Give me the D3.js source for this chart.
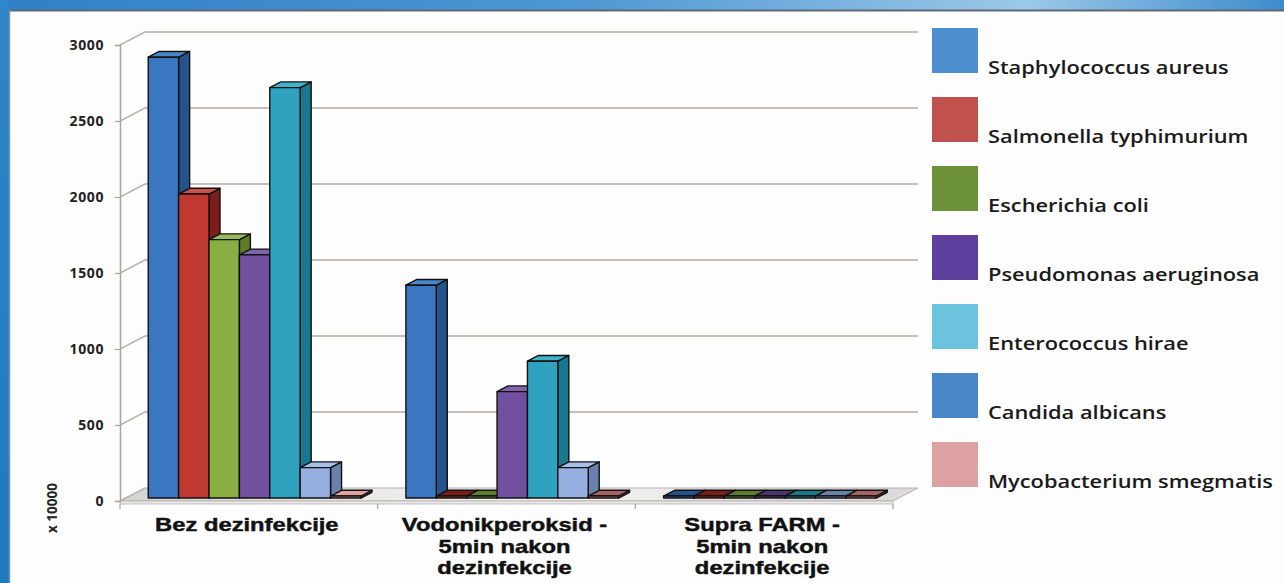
<!DOCTYPE html>
<html lang="en">
<head>
<meta charset="UTF-8">
<title>Broj mikroorganizama prije i nakon dezinfekcije</title>
<script src="https://d3js.org/d3.v7.min.js"></script>
<style>
  html, body { margin: 0; padding: 0; background: #fff; overflow: hidden; }
  svg { display: block; font-family: "Open Sans", "DejaVu Sans", sans-serif; }
</style>
</head>
<body>
<svg id="chart" width="1284" height="583"></svg>
<script>
// ---- data ----
const categories = ["Bez dezinfekcije", "Vodonikperoksid - 5min nakon dezinfekcije", "Supra FARM - 5min nakon dezinfekcije"];
const categoryLines = [["Bez dezinfekcije"], ["Vodonikperoksid -", "5min nakon", "dezinfekcije"], ["Supra FARM -", "5min nakon", "dezinfekcije"]];
const seriesNames = ["Staphylococcus aureus", "Salmonella typhimurium", "Escherichia coli", "Pseudomonas aeruginosa", "Enterococcus hirae", "Candida albicans", "Mycobacterium smegmatis"];
const staphylococcus = [2900, 1400, 0];
const salmonella     = [2000, 0, 0];
const escherichia    = [1700, 0, 0];
const pseudomonas    = [1600, 700, 0];
const enterococcus   = [2700, 900, 0];
const candida        = [200, 200, 0];
const mycobacterium  = [0, 0, 0];
const yTicks = [0, 500, 1000, 1500, 2000, 2500, 3000];
const yUnit = "x 10000";

const seriesValues = [staphylococcus, salmonella, escherichia, pseudomonas, enterococcus, candida, mycobacterium];

// ---- styles ----
const barFront  = ["#3b77c0", "#bf3931", "#8aae43", "#71509f", "#2ea2bf", "#97afe0", "#d98a82"];
const barSide   = ["#25548d", "#7c1d1a", "#5e7d2a", "#4b336f", "#18788e", "#6981ab", "#a6645e"];
const barTop    = ["#4a86cc", "#c94f48", "#98bb56", "#7f63ad", "#40b2cb", "#a8bde7", "#e2a29b"];
const legendCol = ["#4e8fcf", "#c0514c", "#6c9139", "#5e3f9d", "#6cc3de", "#4a87c9", "#dca1a0"];

const svg = d3.select("#chart");
const W = 1284, H = 583;

// ---- frame ----
const defs = svg.append("defs");
const topGrad = defs.append("linearGradient").attr("id", "topGrad");
topGrad.append("stop").attr("offset", "0%").attr("stop-color", "#2f80c4");
topGrad.append("stop").attr("offset", "45%").attr("stop-color", "#4d97d2");
topGrad.append("stop").attr("offset", "80%").attr("stop-color", "#9cc8e8");
topGrad.append("stop").attr("offset", "100%").attr("stop-color", "#3d8ccc");
const leftGrad = defs.append("linearGradient").attr("id", "leftGrad")
  .attr("x1", 0).attr("y1", 0).attr("x2", 0).attr("y2", 1);
leftGrad.append("stop").attr("offset", "0%").attr("stop-color", "#2f86c8");
leftGrad.append("stop").attr("offset", "100%").attr("stop-color", "#1d79c0");
const floorGrad = defs.append("linearGradient").attr("id", "floorGrad");
floorGrad.append("stop").attr("offset", "0%").attr("stop-color", "#d4d4d4");
floorGrad.append("stop").attr("offset", "50%").attr("stop-color", "#f6f6f6");
floorGrad.append("stop").attr("offset", "100%").attr("stop-color", "#d9d9d9");

svg.append("rect").attr("width", W).attr("height", H).attr("fill", "#fdfdfd");
svg.append("rect").attr("x", 0).attr("y", 0).attr("width", W).attr("height", 10).attr("fill", "url(#topGrad)");
svg.append("rect").attr("x", 0).attr("y", 0).attr("width", 9).attr("height", H).attr("fill", "url(#leftGrad)");
svg.append("line").attr("x1", 9).attr("x2", W).attr("y1", 10.5).attr("y2", 10.5)
  .attr("stroke", "#5d6b78").attr("stroke-width", 2);
svg.append("line").attr("x1", 9.5).attr("x2", 9.5).attr("y1", 10).attr("y2", H)
  .attr("stroke", "#7d94a8").attr("stroke-width", 1.5);

// ---- scales ----
const x0 = 120, x1 = 893;
const y = d3.scaleLinear().domain([0, 3000]).range([501, 45]);
const x = d3.scaleBand().domain(categories).range([x0, x1]).padding(0);
const xs = d3.scaleBand().domain(seriesNames).range([0, x.bandwidth()]).paddingInner(0).paddingOuter(0.74);

// oblique depth: t = 0 front, t = 1 back wall
const DX = 25, DY = -13;
const off = t => [DX * t, DY * t];

// ---- walls and grid ----
const grid = svg.append("g");
grid.append("polygon")
  .attr("points", [[x0, y(0)], [x1, y(0)], [x1 + DX, y(0) + DY], [x0 + DX, y(0) + DY]].join(" "))
  .attr("fill", "url(#floorGrad)").attr("stroke", "#b8b0ad").attr("stroke-width", 1);
grid.append("rect").attr("x", x0).attr("y", y(0)).attr("width", x1 - x0).attr("height", 3)
  .attr("fill", "#e8e8e8").attr("stroke", "#b8b0ad").attr("stroke-width", 0.8);

grid.selectAll("line.back").data(yTicks.filter(d => d > 0)).join("line")
  .attr("class", "back")
  .attr("x1", x0 + DX).attr("x2", x1 + DX)
  .attr("y1", d => y(d) + DY).attr("y2", d => y(d) + DY)
  .attr("stroke", "#cbbdb8").attr("stroke-width", 2);
grid.selectAll("line.side").data(yTicks).join("line")
  .attr("class", "side")
  .attr("x1", x0).attr("x2", x0 + DX)
  .attr("y1", d => y(d)).attr("y2", d => y(d) + DY)
  .attr("stroke", "#bdb3b0").attr("stroke-width", 1.5);

// y axis
const axisG = svg.append("g").attr("transform", `translate(${x0},0)`)
  .call(d3.axisLeft(y).tickValues(yTicks).tickSize(5).tickPadding(11).tickFormat(d3.format("d")));
axisG.select(".domain").attr("stroke", "#aaa29f").attr("stroke-width", 1.5);
axisG.selectAll(".tick line").attr("stroke", "#aaa29f").attr("stroke-width", 1.2);
axisG.selectAll(".tick text")
  .attr("fill", "#222").attr("font-size", 14).attr("font-weight", 700)
  .attr("letter-spacing", 0.6)
  .attr("font-family", "'Open Sans', sans-serif");

// category ticks
svg.append("g").selectAll("line").data([x0, ...categories.slice(1).map(c => x(c)), x1]).join("line")
  .attr("x1", d => d).attr("x2", d => d)
  .attr("y1", y(0) + 3).attr("y2", y(0) + 8)
  .attr("stroke", "#aaa29f").attr("stroke-width", 1.2);

// ---- bars ----
const tFront = 0.23, tBack = 0.67;
const [ax, ay] = off(tFront);
const [bx, by] = off(tBack);
const bars = svg.append("g")
  .attr("stroke", "#111").attr("stroke-width", 1.4).attr("stroke-linejoin", "round");

categories.forEach((cat, ci) => {
  seriesNames.forEach((name, si) => {
    const v = seriesValues[si][ci];
    const left = x(cat) + xs(name);
    const right = left + xs.bandwidth();
    const base = y(0);
    const top = Math.min(y(v), base - 2);
    const g = bars.append("g");
    g.append("polygon")
      .attr("points", [[right + ax, top + ay], [right + bx, top + by], [right + bx, base + by], [right + ax, base + ay]].join(" "))
      .attr("fill", barSide[si]);
    g.append("polygon")
      .attr("points", [[left + ax, top + ay], [left + bx, top + by], [right + bx, top + by], [right + ax, top + ay]].join(" "))
      .attr("fill", v > 0 || ci === 0 ? barTop[si] : barSide[si]);
    g.append("rect")
      .attr("x", left + ax).attr("y", top + ay)
      .attr("width", right - left).attr("height", base - top)
      .attr("fill", barFront[si]);
  });
});

// ---- category labels ----
const labG = svg.append("g").attr("font-weight", 700).attr("font-size", 19)
  .attr("font-family", "'Liberation Sans', Arial, sans-serif")
  .attr("fill", "#111").attr("stroke", "#111").attr("stroke-width", 0.45)
  .attr("text-anchor", "middle");
categories.forEach((cat, ci) => {
  const cx = x(cat) + x.bandwidth() / 2 - 2;
  categoryLines[ci].forEach((line, li) => {
    labG.append("text")
      .attr("transform", `translate(${cx},${531 + li * 21.5}) scale(1.25,1)`)
      .text(line);
  });
});

// unit label
svg.append("text")
  .attr("transform", "translate(57,508) rotate(-90)")
  .attr("text-anchor", "middle").attr("font-size", 13.5).attr("font-weight", 700)
  .attr("fill", "#222").text(yUnit);

// ---- legend ----
const legend = svg.append("g").attr("transform", "translate(932,28)");
const li = legend.selectAll("g").data(seriesNames).join("g")
  .attr("transform", (d, i) => `translate(0,${i * 69})`);
li.append("rect").attr("width", 46).attr("height", 45).attr("fill", (d, i) => legendCol[i]);
li.append("text").attr("transform", "translate(56,46) scale(1.18,1)")
  .attr("font-size", 18.5).attr("font-weight", 600).attr("fill", "#1a1a1a").text(d => d);
</script>
</body>
</html>
